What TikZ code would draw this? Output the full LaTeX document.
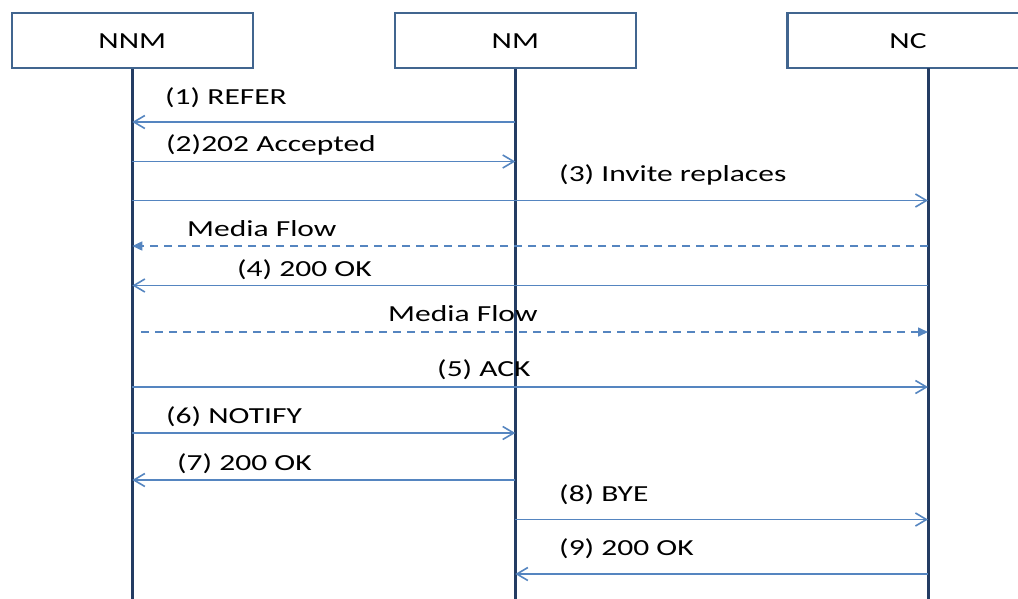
\documentclass[tikz,border=0pt]{standalone}
\usepackage{fontspec}
\setmainfont[FakeStretch=1.37]{Carlito}
\usetikzlibrary{arrows.meta}
\definecolor{boxline}{HTML}{41658F}
\definecolor{lifeline}{HTML}{233C63}
\definecolor{msgline}{HTML}{5585C0}
\tikzset{
  party/.style={draw=boxline, line width=2.5pt, minimum width=241, minimum height=55,
    inner sep=0pt, font=\fontsize{23}{28}\selectfont},
  life/.style={draw=lifeline, line width=3pt},
  msg/.style={draw=msgline, line width=1.6pt, -{Straight Barb[length=11pt,width=13pt]}},
  media/.style={draw=msgline, line width=1.6pt, dash pattern=on 8pt off 6pt,
    -{Triangle[length=10pt,width=9pt]}},
  lbl/.style={anchor=base west, inner sep=0pt, font=\fontsize{23}{28}\selectfont}
  }

\begin{document}
\begin{tikzpicture}[x=1pt, y=-1pt]
    \clip (0,0) rectangle (1018,598);

    % the three parties
    \node [party] at (132.3,40.7) (nnm) {NNM};
    \node [party] at (515.3,40.7) (nm) {NM};
    \node [party] at (908,40.7) (nc) {NC};
    \coordinate (nctop) at (928,68);
    \coordinate (bottom) at (0,600);

    % lifelines
    \draw [life] (nnm.south) -- (nnm.south |- bottom);
    \draw [life] (nm.south) -- (nm.south |- bottom);
    \draw [life] (nctop) -- (nctop |- bottom);

    % rows of the messages
    \coordinate (r1) at (0,122);
    \coordinate (r2) at (0,161.5);
    \coordinate (r3) at (0,200.5);
    \coordinate (f1) at (0,246);
    \coordinate (r4) at (0,285.5);
    \coordinate (f2) at (0,332);
    \coordinate (r5) at (0,387);
    \coordinate (r6) at (0,433);
    \coordinate (r7) at (0,480);
    \coordinate (r8) at (0,519.5);
    \coordinate (r9) at (0,574);
    \coordinate (f2start) at (141,0);

    \draw [msg] (nm |- r1) -- (nnm |- r1);
    \draw [msg] (nnm |- r2) -- (nm |- r2);
    \draw [msg] (nnm |- r3) -- (nctop |- r3);
    \draw [media] (nctop |- f1) -- (nnm |- f1);
    \draw [msg] (nctop |- r4) -- (nnm |- r4);
    \draw [media] (f2start |- f2) -- (nctop |- f2);
    \draw [msg] (nnm |- r5) -- (nctop |- r5);
    \draw [msg] (nnm |- r6) -- (nm |- r6);
    \draw [msg] (nm |- r7) -- (nnm |- r7);
    \draw [msg] (nm |- r8) -- (nctop |- r8);
    \draw [msg] (nctop |- r9) -- (nm |- r9);

    % message labels
    \node [lbl] at (165,104) (l1) {(1) REFER};
    \node [lbl] at (166,151) (l2) {(2)202 Accepted};
    \node [lbl] at (559,181) (l3) {(3) Invite replaces};
    \node [lbl] at (187,236) (lf1) {Media Flow};
    \node [lbl] at (237,276.5) (l4) {(4) 200 OK};
    \node [lbl] at (388,321.5) (lf2) {Media Flow};
    \node [lbl] at (437,376) (l5) {(5) ACK};
    \node [lbl] at (166,423) (l6) {(6) NOTIFY};
    \node [lbl] at (177,470) (l7) {(7) 200 OK};
    \node [lbl] at (559,501) (l8) {(8) BYE};
    \node [lbl] at (559,555.5) (l9) {(9) 200 OK};
\end{tikzpicture}
\end{document}
